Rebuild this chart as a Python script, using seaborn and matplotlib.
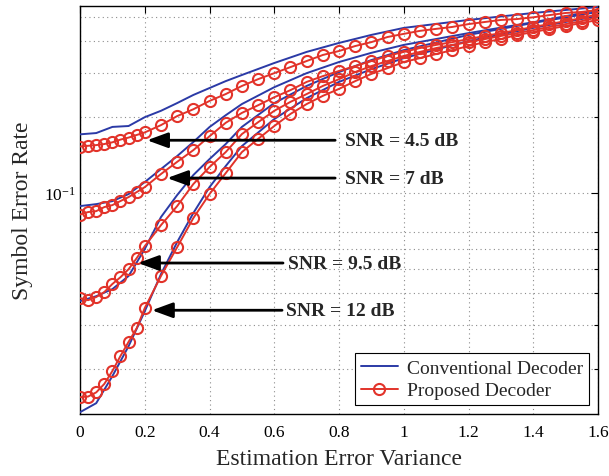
import matplotlib
matplotlib.use('Agg')
import matplotlib.pyplot as plt
from matplotlib.lines import Line2D
import seaborn as sns

# x grid of the proposed decoder (circle markers)
x_prop = [0, 0.025, 0.05, 0.075, 0.1, 0.125, 0.15, 0.175, 0.2,
          0.25, 0.3, 0.35, 0.4, 0.45, 0.5, 0.55, 0.6, 0.65, 0.7, 0.75,
          0.8, 0.85, 0.9, 0.95, 1.0, 1.05, 1.1, 1.15, 1.2, 1.25, 1.3,
          1.35, 1.4, 1.45, 1.5, 1.55, 1.6]
# x grid of the conventional decoder
x_conv = [0, 0.05, 0.1, 0.15, 0.2, 0.25, 0.3, 0.35, 0.4, 0.45, 0.5,
          0.6, 0.7, 0.8, 0.9, 1.0, 1.2, 1.4, 1.6]

snr_labels = ['SNR = 4.5 dB', 'SNR = 7 dB', 'SNR = 9.5 dB', 'SNR = 12 dB']

# proposed decoder SER
prop_45 = [0.153, 0.154, 0.155, 0.1565, 0.159, 0.163, 0.166, 0.170, 0.174,
           0.186, 0.202, 0.215, 0.232, 0.247, 0.266, 0.283, 0.299, 0.316, 0.334,
           0.353, 0.366, 0.383, 0.397, 0.416, 0.428, 0.440, 0.448, 0.456, 0.468,
           0.477, 0.486, 0.490, 0.498, 0.508, 0.518, 0.523, 0.532]
prop_7 = [0.0822, 0.0841, 0.0848, 0.0880, 0.0896, 0.0930, 0.0964, 0.1009, 0.1056,
          0.119, 0.133, 0.148, 0.168, 0.190, 0.208, 0.223, 0.240, 0.256, 0.276,
          0.291, 0.305, 0.319, 0.334, 0.350, 0.363, 0.376, 0.387, 0.397, 0.408,
          0.420, 0.431, 0.443, 0.456, 0.468, 0.481, 0.494, 0.513]
prop_95 = [0.0383, 0.0376, 0.0387, 0.0405, 0.0436, 0.0464, 0.0499, 0.0552, 0.0616,
           0.0746, 0.0888, 0.1086, 0.1268, 0.1454, 0.1714, 0.191, 0.212, 0.230, 0.247,
           0.266, 0.283, 0.302, 0.319, 0.334, 0.350, 0.363, 0.376, 0.387, 0.397,
           0.408, 0.420, 0.431, 0.443, 0.456, 0.468, 0.481, 0.499]
prop_12 = [0.0155, 0.0156, 0.0162, 0.0175, 0.0197, 0.0226, 0.0257, 0.0291, 0.0350,
           0.0469, 0.0610, 0.0796, 0.0991, 0.120, 0.1454, 0.164, 0.1845, 0.206, 0.2255,
           0.243, 0.259, 0.278, 0.297, 0.313, 0.331, 0.343, 0.356, 0.369, 0.383,
           0.397, 0.408, 0.424, 0.435, 0.448, 0.460, 0.473, 0.486]

# conventional decoder SER
conv_45 = [0.171, 0.173, 0.183, 0.1845, 0.200, 0.212, 0.2275, 0.245, 0.261, 0.278,
           0.294, 0.328, 0.363, 0.394, 0.424, 0.452, 0.486, 0.518, 0.547]
conv_7 = [0.0888, 0.0904, 0.0929, 0.0991, 0.1106, 0.1245, 0.1402, 0.1594, 0.1828,
          0.2036, 0.2255, 0.263, 0.299, 0.331, 0.360, 0.387, 0.431, 0.476, 0.532]
conv_95 = [0.0373, 0.0390, 0.0416, 0.0469, 0.0600, 0.0803, 0.0982, 0.1179, 0.1364,
           0.1565, 0.183, 0.2275, 0.266, 0.302, 0.337, 0.369, 0.424, 0.473, 0.523]
conv_12 = [0.01352, 0.01468, 0.0188, 0.0247, 0.0340, 0.0477, 0.0639, 0.0833, 0.1056,
           0.128, 0.1536, 0.1966, 0.238, 0.276, 0.310, 0.343, 0.401, 0.452, 0.504]

# annotation arrows: (y, arrow tail x, arrow tip x, text x)
arrow_y = [0.162, 0.1147, 0.0528, 0.0343]
arrow_tail = [0.788, 0.788, 0.627, 0.624]
arrow_tip = [0.207, 0.269, 0.179, 0.222]
text_x = [0.819, 0.819, 0.642, 0.636]

blue = '#2b3aa6'
red = '#e2332a'

sns.set_style('white')
plt.rcParams['font.family'] = ['Liberation Serif', 'DejaVu Serif']
plt.rcParams['mathtext.fontset'] = 'custom'
plt.rcParams['mathtext.rm'] = 'Liberation Serif'
plt.rcParams['mathtext.it'] = 'Liberation Serif:italic'

fig = plt.figure(figsize=(6.09, 4.77), dpi=100)
ax = fig.add_axes([0.1314, 0.130, 0.982 - 0.1314, 0.9853 - 0.130])

for conv in [conv_45, conv_7, conv_95, conv_12]:
    sns.lineplot(x=x_conv, y=conv, color=blue, linewidth=1.4, ax=ax,
                 legend=False, zorder=3)
for prop in [prop_45, prop_7, prop_95, prop_12]:
    sns.lineplot(x=x_prop, y=prop, color=red, linewidth=1.4, marker='o',
                 markersize=8, markerfacecolor='none', markeredgecolor=red,
                 markeredgewidth=1.5, ax=ax, legend=False, zorder=4)

ax.set_yscale('log')
ax.set_xlim(0, 1.6)
ax.set_ylim(0.0133, 0.552)

ax.set_xticks([0, 0.2, 0.4, 0.6, 0.8, 1.0, 1.2, 1.4, 1.6])
ax.set_xticklabels(['0', '0.2', '0.4', '0.6', '0.8', '1', '1.2', '1.4', '1.6'])
ax.set_yticks([0.1])
ax.set_yticklabels(['$10^{-1}$'])
ax.set_yticks([0.02, 0.03, 0.04, 0.05, 0.06, 0.07, 0.2, 0.3, 0.4, 0.5], minor=True)
ax.yaxis.set_minor_formatter(plt.NullFormatter())

ax.tick_params(axis='both', which='both', direction='in', top=True, right=True,
               colors='black', labelsize=12.5)
ax.tick_params(axis='both', which='major', length=5, width=0.8)
ax.tick_params(axis='y', which='minor', length=3, width=0.8)
ax.tick_params(axis='x', pad=7)
ax.tick_params(axis='y', pad=3)

ax.grid(True, which='both', linestyle=(0, (1, 3)), color='#8c8c8c', linewidth=0.8)
ax.set_axisbelow(True)
for s in ax.spines.values():
    s.set_color('black')
    s.set_linewidth(1.0)

ax.set_xlabel('Estimation Error Variance', fontsize=17, labelpad=6)
ax.set_ylabel('Symbol Error Rate', fontsize=17, labelpad=8)

for lab, y, xt, xh, tx in zip(snr_labels, arrow_y, arrow_tail, arrow_tip, text_x):
    ax.annotate('', xy=(xh, y), xytext=(xt, y),
                arrowprops=dict(arrowstyle='-|>,head_length=0.9,head_width=0.33',
                                color='black', lw=2, shrinkA=0, shrinkB=0,
                                mutation_scale=14),
                zorder=6)
    ax.text(tx, y, lab, fontsize=14, fontweight='bold', ha='left', va='center',
            zorder=6)

handles = [Line2D([], [], color=blue, lw=1.4, label='Conventional Decoder'),
           Line2D([], [], color=red, lw=1.4, marker='o', markersize=8,
                  markerfacecolor='none', markeredgecolor=red, markeredgewidth=1.5,
                  label='Proposed Decoder')]
leg = ax.legend(handles=handles, loc='lower right', fontsize=14, frameon=True,
                fancybox=False, edgecolor='black', framealpha=1,
                borderaxespad=0.45, handlelength=1.9, handletextpad=0.5,
                borderpad=0.3, labelspacing=0.25)
leg.get_frame().set_linewidth(0.8)
leg.set_zorder(7)

fig.savefig('out.png', dpi=100)
